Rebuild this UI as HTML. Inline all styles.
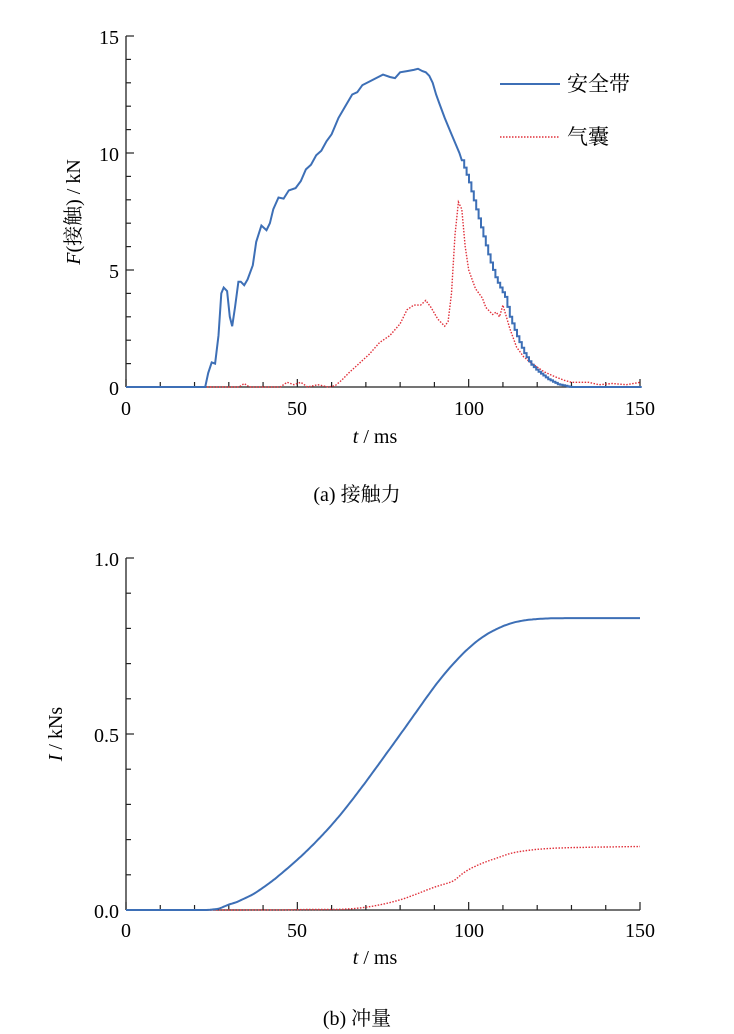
<!DOCTYPE html>
<html><head><meta charset="utf-8"><style>
body{margin:0;background:#fff;}
svg{display:block;font-family:"Liberation Serif","Noto Serif CJK SC",serif;}
</style></head><body>
<svg id="s" width="734" height="1034" xmlns="http://www.w3.org/2000/svg">
<g id="g1"></g>
<text x="119" y="44" font-size="20" text-anchor="end">15</text>
<text x="119" y="161" font-size="20" text-anchor="end">10</text>
<text x="119" y="278" font-size="20" text-anchor="end">5</text>
<text x="119" y="395" font-size="20" text-anchor="end">0</text>
<text x="126" y="415" font-size="20" text-anchor="middle">0</text>
<text x="297" y="415" font-size="20" text-anchor="middle">50</text>
<text x="469" y="415" font-size="20" text-anchor="middle">100</text>
<text x="640" y="415" font-size="20" text-anchor="middle">150</text>
<text x="375" y="443" font-size="20" text-anchor="middle"><tspan font-style="italic">t</tspan> / ms</text>
<text transform="translate(80,212) rotate(-90)" font-size="20" text-anchor="middle"><tspan font-style="italic">F</tspan>(接触) / kN</text>
<text x="357" y="501" font-size="20" text-anchor="middle">(a)  接触力</text>
<line x1="500" y1="84" x2="560" y2="84" stroke="#3d6fb6" stroke-width="2"/>
<text x="567" y="91" font-size="21">安全带</text>
<line x1="500" y1="137" x2="560" y2="137" stroke="#e0303a" stroke-width="1.5" stroke-dasharray="1.5,1.5"/>
<text x="567" y="144" font-size="21">气囊</text>

<text x="119" y="566" font-size="20" text-anchor="end">1.0</text>
<text x="119" y="742" font-size="20" text-anchor="end">0.5</text>
<text x="119" y="918" font-size="20" text-anchor="end">0.0</text>
<text x="126" y="937" font-size="20" text-anchor="middle">0</text>
<text x="297" y="937" font-size="20" text-anchor="middle">50</text>
<text x="469" y="937" font-size="20" text-anchor="middle">100</text>
<text x="640" y="937" font-size="20" text-anchor="middle">150</text>
<text x="375" y="964" font-size="20" text-anchor="middle"><tspan font-style="italic">t</tspan> / ms</text>
<text transform="translate(62,734) rotate(-90)" font-size="20" text-anchor="middle"><tspan font-style="italic">I</tspan> / kNs</text>
<text x="357" y="1025" font-size="20" text-anchor="middle">(b)  冲量</text>
</svg>
<script>
var NS="http://www.w3.org/2000/svg",g=document.getElementById("g1");
function el(t,a){var e=document.createElementNS(NS,t);for(var k in a)e.setAttribute(k,a[k]);g.appendChild(e);return e;}
var X0=126,XS=514/150;
function axes(y0,yTop,nMinor,majEvery){
 el("line",{x1:X0,y1:yTop,x2:X0,y2:y0,stroke:"#222","stroke-width":1.3});
 el("line",{x1:X0,y1:y0,x2:640,y2:y0,stroke:"#222","stroke-width":1.3});
 for(var i=0;i<=nMinor;i++){var y=y0-(y0-yTop)*i/nMinor;var L=(i%majEvery==0)?8:5;
  el("line",{x1:X0,y1:y,x2:X0+L,y2:y,stroke:"#222","stroke-width":1.2});}
 for(var t=0;t<=150;t+=10){var x=X0+t*XS;var L=(t%50==0)?8:5;
  el("line",{x1:x,y1:y0,x2:x,y2:y0-L,stroke:"#222","stroke-width":1.2});}
}
axes(387,36,15,5);axes(910,558,10,5);
var B=[[0,0],[23.1,0],[24,0.6],[25,1.05],[26,1.0],[27,2.2],[27.8,4.0],[28.5,4.25],[29.5,4.1],[30.3,3.0],[31,2.6],[31.8,3.4],[32.8,4.5],[33.5,4.5],[34.5,4.35],[35.5,4.6],[37,5.2],[38,6.2],[39.5,6.9],[41,6.7],[42,7.0],[43,7.6],[44.5,8.1],[46,8.05],[47.5,8.4],[49.5,8.5],[51,8.8],[52.5,9.3],[54,9.5],[55.5,9.9],[57,10.1],[58.5,10.5],[60,10.8],[62,11.5],[64,12.0],[66,12.5],[67.5,12.6],[69,12.9],[71,13.05],[73,13.2],[75,13.35],[77,13.25],[78.5,13.2],[80,13.45],[82,13.5],[84,13.55],[85.2,13.6],[86.5,13.5],[87.5,13.45],[88.5,13.3],[89.5,13.0],[90.5,12.5],[91.5,12.1],[93,11.5],[95,10.8],[97.3,10],[100,8.8],[102,7.7],[104,6.6],[106,5.5],[108,4.6],[110.6,3.85],[112,3.0],[114,2.2],[116,1.5],[118,1.0],[120,0.7],[123,0.35],[126,0.12],[129.6,0],[150,0]];
var R=[[0,0],[33,0],[34.5,0.15],[36,0],[45,0],[47,0.2],[49,0.1],[51,0.2],[53,0],[56,0.1],[59,0],[61,0.05],[63,0.3],[65,0.6],[68,1.0],[71,1.4],[74,1.9],[77,2.2],[80,2.7],[82,3.3],[84,3.5],[86,3.5],[87.5,3.7],[89,3.4],[91,2.9],[93,2.6],[94,2.8],[95,4],[96,6.5],[97,7.9],[98,7.6],[99,6.0],[100,5.0],[101,4.6],[102,4.2],[104,3.8],[105,3.4],[107,3.1],[108,3.2],[109,3.0],[110,3.5],[111,3.0],[112,2.5],[114,1.7],[116,1.3],[118,1.05],[120,0.85],[122,0.65],[125,0.45],[128,0.28],[130,0.2],[135,0.2],[138,0.1],[142,0.15],[146,0.1],[150,0.2]];
function interp(D,t){for(var i=1;i<D.length;i++)if(t<=D[i][0]){var a=D[i-1],b=D[i];return a[1]+(b[1]-a[1])*(t-a[0])/(b[0]-a[0]);}return D[D.length-1][1];}
function pts(D,y0,sc,step){var s=[];if(step){for(var i=0;i<D.length;i++){if(D[i][0]>98)break;s.push([D[i][0],D[i][1]]);}
 for(var t=98;t<150;t+=0.7){var v=interp(D,t);s.push([t,v]);s.push([t+0.7,v]);}}else s=D;
 return s.map(function(p){return (X0+p[0]*XS).toFixed(1)+","+(y0-p[1]*sc).toFixed(1);}).join(" ");}
el("polyline",{points:pts(R,387,23.4,false),fill:"none",stroke:"#e0303a","stroke-width":1.4,"stroke-dasharray":"1.5,1.5"});
el("polyline",{points:pts(B,387,23.4,true),fill:"none",stroke:"#3d6fb6","stroke-width":2});
function integ(D,k){var out=[],s=0,dt=0.5;for(var t=0;t<=150;t+=dt){out.push([t,s*k]);s+=interp(D,t+dt/2)*dt/1000;}return out;}
var IB=integ(B,1.013),IR=integ(R,1.06);
el("polyline",{points:pts(IR,910,352,false),fill:"none",stroke:"#e0303a","stroke-width":1.4,"stroke-dasharray":"1.5,1.5"});
el("polyline",{points:pts(IB,910,352,false),fill:"none",stroke:"#3d6fb6","stroke-width":2});
</script>
</body></html>
